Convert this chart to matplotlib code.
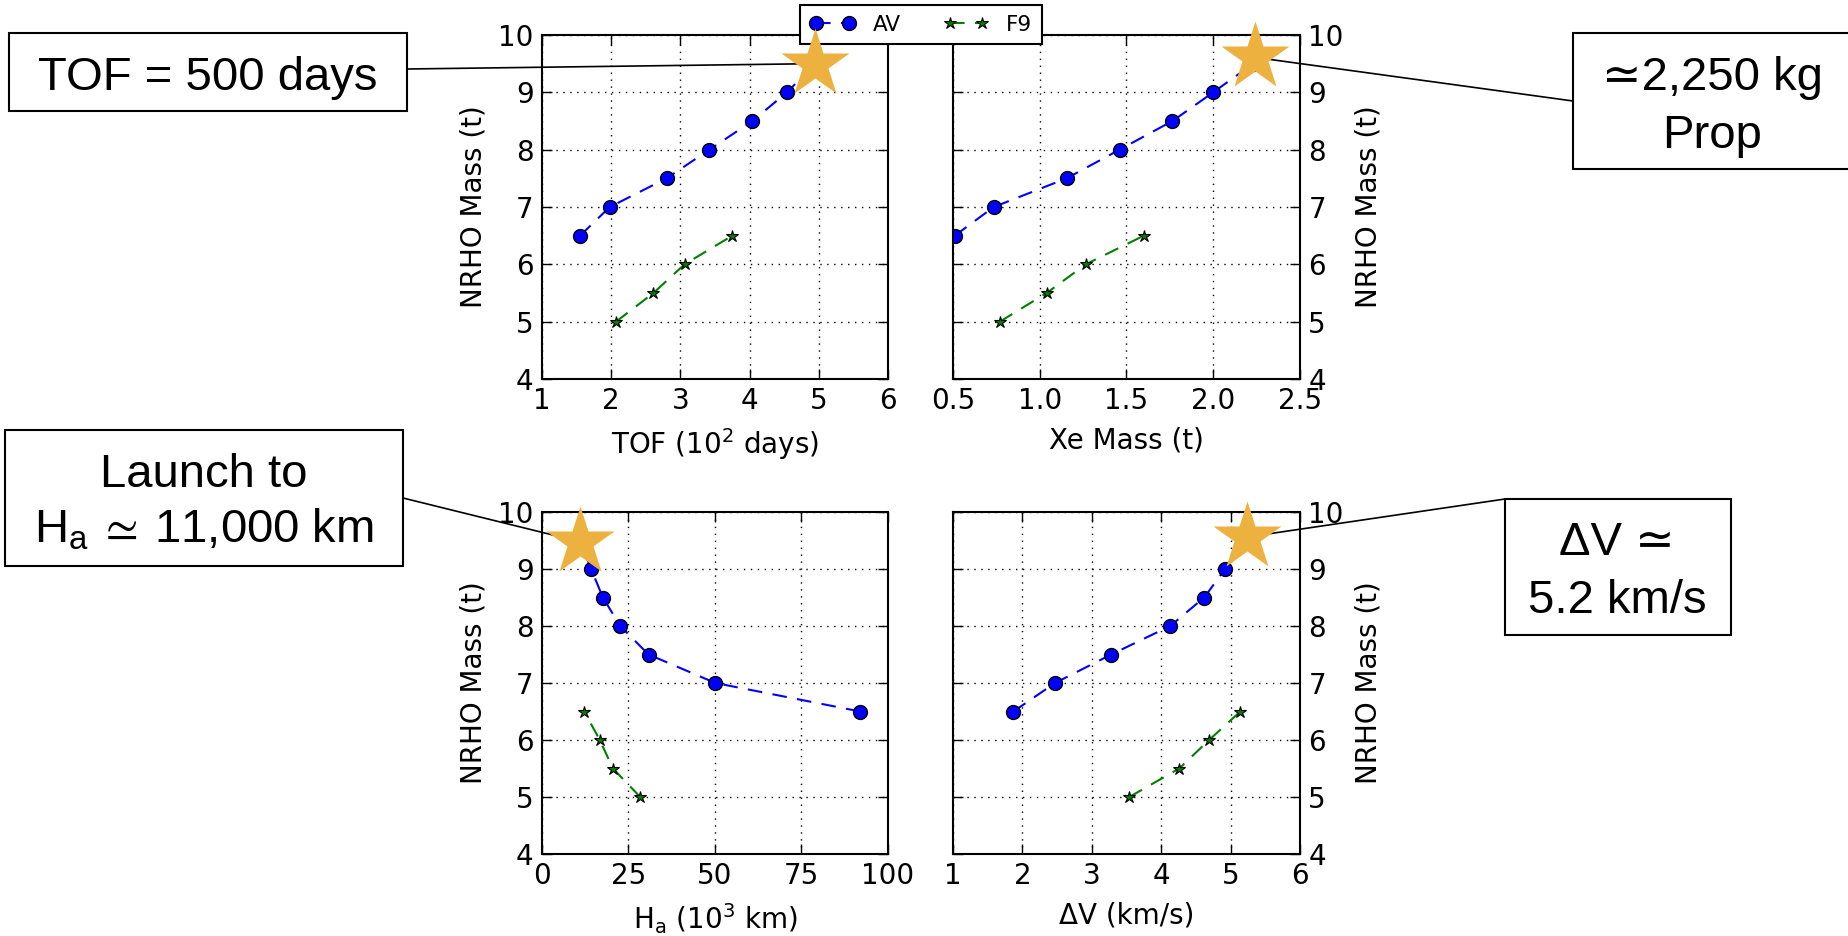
import numpy as np
import matplotlib
matplotlib.use('Agg')
import matplotlib.pyplot as plt
from matplotlib.lines import Line2D
from matplotlib.patches import Rectangle, ConnectionPatch

plt.rcParams['mathtext.default'] = 'regular'

# NRHO mass (t) for the two launchers
mass_av = [6.5, 7.0, 7.5, 8.0, 8.5, 9.0, 9.5]
mass_f9 = [5.0, 5.5, 6.0, 6.5]

tof_av = [1.55, 1.98, 2.80, 3.42, 4.04, 4.54, 4.95]
tof_f9 = [2.07, 2.61, 3.06, 3.75]
xe_av = [0.51, 0.735, 1.155, 1.46, 1.765, 2.0, 2.23]
xe_f9 = [0.77, 1.04, 1.265, 1.60]
ha_av = [92.0, 50.1, 30.8, 22.6, 17.6, 14.2, 11.0]
ha_f9 = [28.4, 20.5, 16.7, 12.2]
dv_av = [1.87, 2.47, 3.28, 4.13, 4.62, 4.92, 5.2]
dv_f9 = [3.54, 4.26, 4.69, 5.14]

# highlighted design points
star_x = [4.94, 2.24, 10.9, 5.23]
star_y = [9.50, 9.61, 9.48, 9.56]

xlabels = ['TOF (10$^{2}$ days)', 'Xe Mass (t)', 'H$_{a}$ (10$^{3}$ km)', '\u0394V (km/s)']
xticks = [[1, 2, 3, 4, 5, 6], [0.5, 1.0, 1.5, 2.0, 2.5], [0, 25, 50, 75, 100], [1, 2, 3, 4, 5, 6]]
yticks = [4, 5, 6, 7, 8, 9, 10]

callouts = [['TOF = 500 days'],
            ['\u22432,250 kg', 'Prop'],
            ['Launch to', r'H$_{a}\,\simeq\,$11,000 km'],
            ['\u0394V \u2243', '5.2 km/s']]

W, H = 1849, 936
fig = plt.figure(figsize=(W / 100, H / 100), dpi=100)


def fpos(x0, y0, x1, y1):
    return [x0 / W, 1 - y1 / H, (x1 - x0) / W, (y1 - y0) / H]


def fp(x, y):
    return (x / W, 1 - y / H)


axes = [fig.add_axes(fpos(542, 35, 888, 379)),
        fig.add_axes(fpos(953, 35, 1300, 379)),
        fig.add_axes(fpos(542, 512, 888, 854)),
        fig.add_axes(fpos(953, 512, 1300, 854))]
xs_av = [tof_av, xe_av, ha_av, dv_av]
xs_f9 = [tof_f9, xe_f9, ha_f9, dv_f9]

handles = []
for i, ax in enumerate(axes):
    l1, = ax.plot(xs_av[i], mass_av, color='b', ls='--', dashes=(7, 5), lw=1.5,
                  marker='o', ms=10, mfc='b', mec='k', mew=1, label='AV')
    l2, = ax.plot(xs_f9[i], mass_f9, color='g', ls='--', dashes=(7, 5), lw=1.5,
                  marker='*', ms=9, mfc='g', mec='k', mew=0.8, label='F9')
    if i == 0:
        handles = [l1, l2]
    ax.set_xlim(xticks[i][0], xticks[i][-1])
    ax.set_ylim(4, 10)
    ax.set_xticks(xticks[i])
    ax.set_yticks(yticks)
    ax.grid(True, color='k', linestyle=(0, (1, 4)), linewidth=1)
    for s in ax.spines.values():
        s.set_linewidth(1.5)
    ax.tick_params(direction='in', length=7, width=1, labelsize=20, pad=6,
                   top=True, right=True, left=True, bottom=True)
    ax.set_xlabel(xlabels[i], fontsize=20, labelpad=8)
    ax.set_ylabel('NRHO Mass (t)', fontsize=20, labelpad=8)
    if i % 2 == 1:
        ax.tick_params(axis='y', labelleft=False, labelright=True)
        ax.yaxis.set_label_position('right')

leg = fig.legend(handles, ['AV', 'F9'], loc='upper center', bbox_to_anchor=fp(921, 5),
                 ncol=2, numpoints=2, fontsize=15.5, fancybox=False, edgecolor='k',
                 framealpha=1, borderpad=0.45, borderaxespad=0, handlelength=2.1,
                 handletextpad=0.8, columnspacing=2.0)
leg.get_frame().set_linewidth(1.5)

# callout boxes (pixel layout)
boxes = [(9, 33, 407, 111), (1573, 33, 1870, 169), (5, 430, 403, 566), (1505, 499, 1731, 635)]
text_pos = [[(208, 90)], [(1712, 90), (1712, 148)], [(204, 487), (204, 543)],
            [(1617, 555), (1617, 613)]]
anchors = [(407, 69), (1573, 101), (403, 498), (1505, 499)]
box_font = ['Liberation Sans', 'DejaVu Sans']

for i, ax in enumerate(axes):
    x0, y0, x1, y1 = boxes[i]
    fig.add_artist(Rectangle(fp(x0, y1), (x1 - x0) / W, (y1 - y0) / H, transform=fig.transFigure,
                             fc='white', ec='k', lw=1.5, zorder=8))
    for txt, (tx, ty) in zip(callouts[i], text_pos[i]):
        fig.text(*fp(tx, ty), txt, ha='center', va='baseline', fontsize=34,
                 family=box_font, zorder=9)
    con = ConnectionPatch(xyA=fp(*anchors[i]), coordsA=fig.transFigure,
                          xyB=(star_x[i], star_y[i]), coordsB=ax.transData,
                          color='k', lw=1.2, zorder=9)
    fig.add_artist(con)
    fig.add_artist(Line2D([star_x[i]], [star_y[i]], marker='*', ms=52, color='#EDB140',
                          mec='none', ls='none', transform=ax.transData, zorder=10))

fig.savefig('out.png', dpi=100, facecolor='white')
